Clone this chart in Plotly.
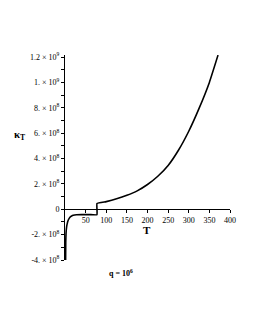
import plotly.graph_objects as go

# Negative branch (T, kappa_T)
T_neg = [1.5, 1.8, 2.5, 4.0, 6.0, 8.0, 12.0, 16.0, 20.0, 28.0, 40.0, 60.0, 77.5]
K_neg = [-4.0e8, -2.6e8, -1.9e8, -1.37e8, -1.05e8, -0.85e8, -0.63e8, -0.53e8, -0.47e8, -0.43e8,
         -0.42e8, -0.42e8, -0.43e8]
# Positive branch
T_pos = [77.5, 100, 125, 150, 175, 200, 225, 250, 275, 300, 325, 350, 371]
K_pos = [0.45e8, 0.6e8, 0.82e8, 1.1e8, 1.45e8, 1.95e8, 2.6e8, 3.45e8, 4.65e8, 6.15e8, 7.95e8, 10.0e8, 12.15e8]

x_ticks = [50, 100, 150, 200, 250, 300, 350, 400]
y_ticks = [-4e8, -2e8, 0, 2e8, 4e8, 6e8, 8e8, 1e9, 1.2e9]
y_labels = ["-4. × 10<sup>8</sup>", "-2. × 10<sup>8</sup>", "0", "2. × 10<sup>8</sup>",
            "4. × 10<sup>8</sup>", "6. × 10<sup>8</sup>", "8. × 10<sup>8</sup>",
            "1. × 10<sup>9</sup>", "1.2 × 10<sup>9</sup>"]

T_all = T_neg + T_pos
K_all = K_neg + K_pos

font = "Liberation Serif"
fig = go.Figure()
fig.add_trace(go.Scatter(x=T_all, y=K_all, mode="lines",
                         line=dict(color="black", width=1.6, shape="spline", smoothing=0.3),
                         hoverinfo="skip", showlegend=False, cliponaxis=False))

W, H = 255, 330
L, R, Tm, B = 65, 25, 55, 70
pw, ph = W - L - R, H - Tm - B

y0 = -4e8
y1 = 1.216e9
tf = dict(family=font, size=8, color="black")
fig.update_layout(
    width=W, height=H,
    margin=dict(l=L, r=R, t=Tm, b=B),
    paper_bgcolor="white", plot_bgcolor="white",
    font=dict(family=font, size=8, color="black"),
    xaxis=dict(range=[0, 400], tickvals=x_ticks, ticktext=[str(v) for v in x_ticks],
               showgrid=False, zeroline=False, showline=True, linecolor="black", linewidth=1,
               ticks="outside", ticklen=3, tickwidth=1, tickcolor="black",
               anchor="free", position=(0 - y0) / (y1 - y0), tickfont=tf),
    yaxis=dict(range=[y0, y1], tickvals=y_ticks, ticktext=y_labels,
               showgrid=False, zeroline=False, showline=True, linecolor="black", linewidth=1,
               ticks="outside", ticklen=3, tickwidth=1, tickcolor="black",
               minor=dict(dtick=1e8, ticklen=3, tickcolor="black", ticks="outside", tick0=0),
               tickfont=tf),
)


def px2paper(px, py):
    return (px - L) / pw, (H - B - py) / ph


for text, px, py, size in [("<b>T</b>", 147, 230, 11),
                           ("<b>κ<sub>T</sub></b>", 20, 135, 11),
                           ("<b>q = 10<sup>6</sup></b>", 121, 273, 8)]:
    ax, ay = px2paper(px, py)
    fig.add_annotation(text=text, x=ax, y=ay, xref="paper", yref="paper", showarrow=False,
                       xanchor="center", yanchor="middle",
                       font=dict(family=font, size=size, color="black"))

fig.write_html("out.html", config={"displayModeBar": False, "staticPlot": True},
               post_script="document.body.style.margin='0';")
